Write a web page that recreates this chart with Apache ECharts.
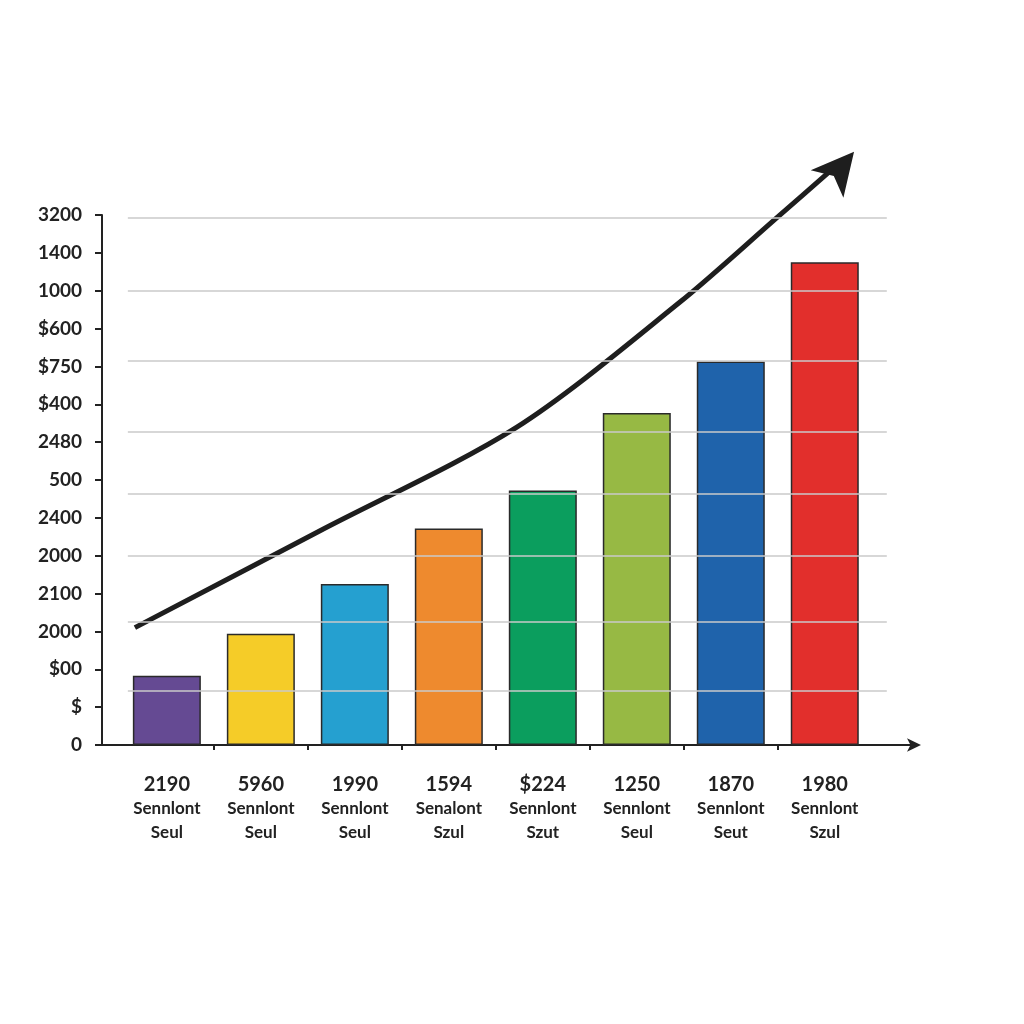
<!DOCTYPE html>
<html>
<head>
<meta charset="utf-8">
<script src="https://cdn.jsdelivr.net/npm/echarts@6/dist/echarts.min.js"></script>
<style>
html,body{margin:0;padding:0;background:#fff;}
#chart{width:1024px;height:1024px;}
</style>
</head>
<body>
<div id="chart"></div>
<script>
// ---- data ----
const yTickLabels = ['0','$','$00','2000','2100','2000','2400','500','2480','$400','$750','$600','1000','1400','3200'];
const xNums  = ['2190','5960','1990','1594','$224','1250','1870','1980'];
const xLine2 = ['Sennlont','Sennlont','Sennlont','Senalont','Sennlont','Sennlont','Sennlont','Sennlont'];
const xLine3 = ['Seul','Seul','Seul','Szul','Szut','Seul','Seut','Szul'];
const barValues = [1.83, 2.94, 4.25, 5.72, 6.72, 8.77, 10.13, 12.75];
const barColors = ['#654a93','#f5cc28','#25a0d0','#ee8a2e','#0b9e5e','#97b944','#1f63ab','#e22f2c'];
const gridValues = [1.43, 3.25, 5.0, 6.64, 8.28, 10.16, 12.01, 13.92];
const trendX = [-0.34, 1.63, 3.72, 5.46, 6.50, 7.12];
const trendY = [3.10, 5.66, 8.39, 11.70, 13.95, 15.30];

const catIdx = barValues.map((v, i) => i);
const tickPos = catIdx.slice(0, -1).map(i => i + 0.5);

const chart = echarts.init(document.getElementById('chart'), null, {renderer: 'canvas'});
const option = {
  animation: false,
  backgroundColor: '#ffffff',
  textStyle: {fontFamily: 'Lato'},
  grid: {left: 102, right: 109, top: 215, bottom: 279, containLabel: false},
  xAxis: {
    type: 'value',
    min: -0.69,
    max: 7.96,
    splitLine: {show: false},
    axisLine: {show: true, onZero: false, symbol: ['none', 'arrow'], symbolSize: [10, 14], symbolOffset: [0, 6],
      lineStyle: {color: '#222', width: 2}},
    axisTick: {show: true, customValues: tickPos, length: 5, lineStyle: {color: '#222', width: 2}},
    axisLabel: {
      show: true,
      customValues: catIdx,
      margin: 28,
      formatter: function (v) {
        const i = Math.round(v);
        return '{a|' + xNums[i] + '}\n{b|' + xLine2[i] + '}\n{b|' + xLine3[i] + '}';
      },
      rich: {
        a: {fontSize: 20, fontWeight: 'bold', color: '#222', lineHeight: 24, fontFamily: 'Lato'},
        b: {fontSize: 17, fontWeight: 'bold', color: '#222', lineHeight: 24, fontFamily: 'Lato'}
      }
    }
  },
  yAxis: {
    type: 'value',
    min: 0,
    max: 14,
    interval: 1,
    splitLine: {show: false},
    axisLine: {show: true, onZero: false, lineStyle: {color: '#222', width: 2}},
    axisTick: {show: true, length: 7, lineStyle: {color: '#222', width: 2}},
    axisLabel: {
      margin: 20,
      fontSize: 19,
      fontWeight: 'bold',
      color: '#222',
      fontFamily: 'Lato',
      formatter: function (v) { return yTickLabels[Math.round(v)]; }
    }
  },
  series: [
    {
      type: 'line',
      z: 1,
      data: [[0, 0]],
      symbol: 'none',
      lineStyle: {opacity: 0},
      silent: true,
      markLine: {
        silent: true,
        symbol: 'none',
        label: {show: false},
        lineStyle: {color: '#cacaca', width: 1.5, type: 'solid'},
        data: gridValues.map(v => [{coord: [-0.415, v]}, {coord: [7.66, v]}])
      }
    },
    {
      type: 'bar',
      z: 2,
      barWidth: 68,
      data: barValues.map((v, i) => ({
        value: [i, v],
        itemStyle: {color: barColors[i], borderColor: '#2a2a2a', borderWidth: 1.5}
      }))
    },
    {
      type: 'line',
      z: 3,
      clip: false,
      smooth: 0.3,
      showSymbol: true,
      symbol: 'none',
      lineStyle: {color: '#1e1e1e', width: 5, cap: 'butt'},
      data: trendX.map((x, i) => {
        const item = {value: [x, trendY[i]]};
        if (i === trendX.length - 1) {
          item.symbol = 'arrow';
          item.symbolSize = [32, 42];
          item.symbolRotate = -40;
          item.symbolOffset = [18, -14];
          item.itemStyle = {color: '#1e1e1e'};
        }
        return item;
      })
    }
  ]
};
chart.setOption(option);
</script>
</body>
</html>
